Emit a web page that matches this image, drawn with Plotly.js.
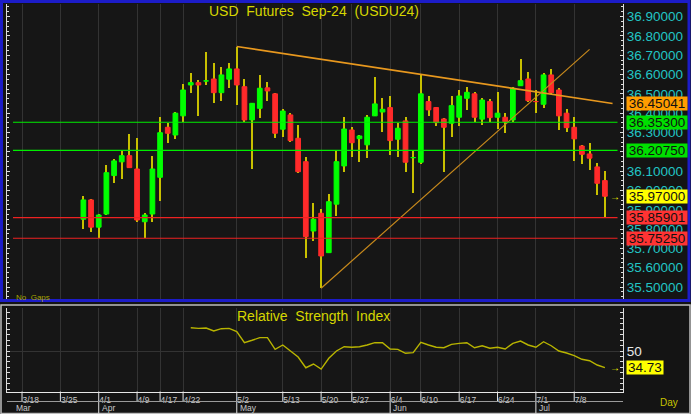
<!DOCTYPE html>
<html><head><meta charset="utf-8">
<script src="https://cdn.plot.ly/plotly-3.0.1.min.js"></script>
<style>html,body{margin:0;padding:0;background:#141414;}#chart{width:691px;height:414px;}</style>
</head><body><div id="chart"></div>
<script>
// ---- axis categories (trading days) ----
const leadDays = ['3/18','3/19','3/20','3/21','3/22','3/25','3/26','3/27'];
const trailDays = ['7/15','7/16','7/17'];
// ---- candle data ----
const dates = ['3/28','3/29','4/1','4/2','4/3','4/4','4/5','4/9','4/10','4/11','4/17','4/18','4/19','4/22','4/23','4/24','4/25','4/26','4/29','4/30',
 '5/2','5/3','5/7','5/8','5/9','5/10','5/13','5/14','5/15','5/16','5/17','5/20','5/21','5/23','5/24','5/27','5/28','5/29','5/30','5/31',
 '6/4','6/5','6/6','6/7','6/10','6/11','6/12','6/13','6/14','6/17','6/18','6/19','6/20','6/21','6/24','6/25','6/26','6/27','6/28',
 '7/1','7/2','7/3','7/4','7/5','7/8','7/9','7/10','7/11','7/12'];
const open = [35.851,35.951,35.810,35.878,36.077,36.148,36.180,36.111,35.838,35.878,36.068,36.327,36.287,36.386,36.546,36.558,36.567,36.577,36.506,36.576,
 36.629,36.537,36.365,36.425,36.531,36.500,36.317,36.391,36.270,36.149,35.790,35.882,35.678,35.929,36.127,36.313,36.268,36.236,36.386,36.406,
 36.429,36.265,36.360,36.170,36.146,36.460,36.429,36.370,36.348,36.379,36.477,36.500,36.369,36.460,36.379,36.379,36.365,36.542,36.577,
 36.460,36.446,36.598,36.520,36.400,36.327,36.230,36.189,36.122,36.051];
const high = [35.972,35.955,35.876,36.132,36.163,36.204,36.291,36.270,35.885,36.180,36.379,36.351,36.404,36.550,36.610,36.572,36.717,36.658,36.638,36.658,
 36.744,36.577,36.455,36.598,36.560,36.505,36.422,36.400,36.339,36.172,35.934,35.903,35.982,36.204,36.379,36.327,36.285,36.391,36.589,36.477,
 36.489,36.351,36.379,36.210,36.598,36.489,36.434,36.374,36.489,36.520,36.537,36.508,36.477,36.472,36.511,36.400,36.537,36.679,36.615,
 36.520,36.607,36.627,36.529,36.420,36.379,36.235,36.247,36.141,36.101];
const low = [35.799,35.787,35.753,35.873,36.037,36.058,36.115,35.838,35.753,35.838,35.947,36.247,36.265,36.356,36.506,36.386,36.546,36.454,36.463,36.532,
 36.443,36.356,36.110,36.374,36.465,36.270,36.278,36.250,36.089,35.649,35.739,35.494,35.675,35.868,36.097,36.175,36.149,36.167,36.386,36.304,
 36.184,36.175,36.097,35.989,36.137,36.386,36.334,36.097,36.278,36.335,36.417,36.356,36.339,36.356,36.317,36.296,36.356,36.540,36.460,
 36.403,36.425,36.500,36.313,36.304,36.154,36.137,36.106,35.977,35.859];
const close = [35.951,35.810,35.873,36.092,36.153,36.180,36.118,35.847,35.873,36.111,36.299,36.296,36.400,36.520,36.558,36.546,36.567,36.506,36.598,36.629,
 36.546,36.365,36.451,36.529,36.515,36.296,36.411,36.258,36.097,35.761,35.851,35.661,35.942,36.149,36.318,36.247,36.282,36.379,36.448,36.420,
 36.258,36.322,36.146,36.170,36.500,36.417,36.351,36.327,36.439,36.489,36.508,36.379,36.468,36.377,36.400,36.356,36.529,36.568,36.465,
 36.460,36.598,36.506,36.386,36.325,36.267,36.187,36.167,36.037,35.970];
// ---- RSI ----
const rsiDates = dates.slice(dates.indexOf('4/23'));
const rsi = [71.3,70.7,71.0,68.3,70.4,70.7,67.7,57.6,59.8,62.2,62.2,51.5,55.5,50.3,44.5,34.7,38.1,33.5,43.3,50.0,53.9,
 53.4,53.9,55.5,57.6,57.6,51.8,51.5,47.9,48.5,57.9,55.5,53.4,53.0,56.1,57.0,57.6,53.0,54.8,52.5,53.4,
 51.8,57.0,59.1,55.5,53.4,58.5,54.8,50.0,48.2,45.7,42.4,41.1,37.2,34.73];
// ---- studies ----
const trendDownDates = ['5/2','7/15'];
const trendDownValues = [36.745, 36.45041];
const trendUpDates = ['5/20','7/10'];
const trendUpValues = [35.494, 36.73];
const levels = [36.353, 36.2075, 35.85901, 35.7525];
const levelColors = ['#00ee00','#00ee00','#ee2222','#ee2222'];
const levelBoxColors = ['#00e000','#00e000','#ff3333','#ff3333'];
// ---- tick labels ----
const tickDates = ['3/18','3/25','4/1','4/9','4/17','4/22','5/2','5/13','5/20','5/27','6/4','6/10','6/17','6/24','7/1','7/8'];
const monthStarts = ['4/1','5/2','6/4','7/1'];
const monthNames = ['Apr','May','Jun','Jul'];
const rsiMinorTicks = [15,20,25,30,35,40,45,55,60,65,70,75,80,85];

const axisDays = leadDays.concat(dates, trailDays);
const ix = d => axisDays.indexOf(d);
const xs = dates.map(ix);

// pixel helpers for decoration placement
const W = 691, H = 414, L = 7, R = 68, PW = W - L - R;
const px = p => (p - L) / PW;
const py = p => (H - p) / H;

const FONT = 'Liberation Sans, Arial, sans-serif';
const YEL = '#d6d600';

const traces = [
  { type:'bar', x: xs, base: low, y: high.map((h,i)=>h-low[i]), width: 0.26,
    marker:{color:'#c8c000'}, xaxis:'x', yaxis:'y', hoverinfo:'skip' },
  { type:'candlestick', x: xs, open: open, close: close,
    high: open.map((o,i)=>Math.max(o,close[i])), low: open.map((o,i)=>Math.min(o,close[i])),
    increasing:{fillcolor:'#00ff00', line:{color:'#00ff00', width:1}},
    decreasing:{fillcolor:'#ff2a2a', line:{color:'#ff2a2a', width:1}},
    whiskerwidth:0, xaxis:'x', yaxis:'y', hoverinfo:'skip' },
  { type:'scatter', mode:'lines', x: trendDownDates.map(ix), y: trendDownValues,
    line:{color:'#e8981e', width:1.6}, xaxis:'x', yaxis:'y', hoverinfo:'skip' },
  { type:'scatter', mode:'lines', x: trendUpDates.map(ix), y: trendUpValues,
    line:{color:'#c88a1c', width:1.2}, xaxis:'x', yaxis:'y', hoverinfo:'skip' },
  { type:'scatter', mode:'lines', x: rsiDates.map(ix), y: rsi,
    line:{color:'#b8b400', width:1.4}, xaxis:'x', yaxis:'y2', hoverinfo:'skip' }
];

const shapes = [];
levels.forEach((v,i)=>shapes.push({type:'line', xref:'paper', yref:'y', x0:px(13), x1:px(617.5), y0:v, y1:v,
  line:{color:levelColors[i], width:1.2}, layer:'above'}));
// frames
shapes.push({type:'rect', xref:'paper', yref:'paper', x0:px(1.5), x1:px(689), y0:py(300.5), y1:py(1.5),
  line:{color:'#1c1cc8', width:3}, layer:'above'});
shapes.push({type:'rect', xref:'paper', yref:'paper', x0:px(1), x1:px(690), y0:py(413.5), y1:py(305),
  line:{color:'#bdbdbd', width:1.5}, layer:'above'});
// date row separators
tickDates.forEach(d=>shapes.push({type:'line', xref:'x', yref:'paper', x0:ix(d), x1:ix(d), y0:py(401.5), y1:py(391.5),
  line:{color:'#e6e6e6', width:1}}));
// month row
shapes.push({type:'line', xref:'paper', yref:'paper', x0:0, x1:1, y0:py(401.5), y1:py(401.5),
  line:{color:'#9a9a9a', width:1}});
monthStarts.forEach(d=>shapes.push({type:'line', xref:'x', yref:'paper', x0:ix(d), x1:ix(d), y0:py(402), y1:py(413.5),
  line:{color:'#e0e0e0', width:1}}));

const annotations = [];
const box = (val, text, bg, yref, w) => ({xref:'paper', x:1, xanchor:'left', xshift:3, yref:yref, y:val, yanchor:'middle',
  text:text, showarrow:false, bgcolor:bg, font:{family:FONT, size:13.5, color:'#111'}, width:w, height:13, borderpad:0});
annotations.push(box(trendDownValues[1], trendDownValues[1].toFixed(5), '#ff9d00', 'y', 60));
levels.forEach((v,i)=>annotations.push(box(v, v.toFixed(5), levelBoxColors[i], 'y', 60)));
annotations.push(box(close[close.length-1], close[close.length-1].toFixed(5), '#ffff00', 'y', 60));
annotations.push(box(rsi[rsi.length-1], rsi[rsi.length-1].toFixed(2), '#ffff00', 'y2', 36));
annotations.push({xref:'paper', x:1, xanchor:'right', xshift:-1, yref:'y', y:close[close.length-1], yanchor:'middle',
  text:'→', showarrow:false, font:{family:FONT, size:10, color:'#ffff00'}});
annotations.push({xref:'paper', x:1, xanchor:'right', xshift:-1, yref:'y2', y:rsi[rsi.length-1], yanchor:'middle',
  text:'→', showarrow:false, font:{family:FONT, size:10, color:'#ffff00'}});
annotations.push({xref:'paper', x:0, xanchor:'left', xshift:7, yref:'paper', y:py(297), yanchor:'middle',
  text:'No  Gaps'.replace(/ /g,'\u00a0'), showarrow:false, font:{family:FONT, size:8, color:'#a8a400'}});
annotations.push({xref:'paper', x:px(669.5), xanchor:'center', yref:'paper', y:py(402), yanchor:'middle',
  text:'Day', showarrow:false, font:{family:FONT, size:10, color:'#c8c400'}});
annotations.push({xref:'paper', x:px(313.5), xanchor:'center', yref:'paper', y:py(316), yanchor:'middle',
  text:'Relative  Strength  Index'.replace(/ /g,'\u00a0'), showarrow:false, font:{family:FONT, size:14, color:YEL}});
annotations.push({xref:'paper', x:0, xanchor:'left', xshift:7, yref:'paper', y:py(407.5), yanchor:'middle',
  text:'Mar', showarrow:false, font:{family:FONT, size:8.5, color:'#c8c8c8'}});
monthStarts.forEach((d,i)=>annotations.push({xref:'x', x:ix(d), xanchor:'left', xshift:1, yref:'paper', y:py(407.5), yanchor:'middle',
  text:monthNames[i], showarrow:false, font:{family:FONT, size:8.5, color:'#c8c8c8'}}));

const layout = {
  width:W, height:H, margin:{l:L, r:R, t:0, b:0},
  paper_bgcolor:'#141414', plot_bgcolor:'#161616', showlegend:false,
  boxgap:0.12, bargap:0,
  font:{family:FONT, color:'#cccccc'},
  title:{text:'USD  Futures  Sep-24  (USDU24)'.replace(/ /g,'\u00a0'), font:{family:FONT, size:14, color:YEL},
    x:314/W, xref:'container', xanchor:'center', y:1-11.5/H, yref:'container', yanchor:'middle'},
  xaxis:{range:[-1.96,78.36], anchor:'y2', tickmode:'array', tickvals:tickDates.map(ix), ticktext:tickDates,
    showgrid:true, gridcolor:'#333333', zeroline:false, showline:true, linecolor:'#e6e6e6', linewidth:1,
    ticks:'', tickangle:0, tickfont:{family:FONT, size:8.5, color:'#c8c8c8'},
    ticklabelposition:'outside right', rangeslider:{visible:false}, fixedrange:true},
  yaxis:{domain:[py(300),py(4)], range:[35.433,36.965], side:'right', anchor:'x',
    tickmode:'linear', tick0:35.5, dtick:0.1, tickformat:'.5f', showgrid:false, zeroline:false,
    ticks:'inside', ticklen:3, tickcolor:'#dddddd', showline:true, linecolor:'#dddddd', mirror:'allticks',
    tickfont:{family:FONT, size:13.5, color:'#22c4c4'},
    minor:{dtick:0.025, ticks:'inside', ticklen:2, tickcolor:'#dddddd'}},
  yaxis3:{overlaying:'y', anchor:'x', side:'left', range:[35.433,36.965], tickmode:'linear', tick0:35.4, dtick:0.2,
    showgrid:true, gridcolor:'#333333', showticklabels:false, ticks:'', zeroline:false, showline:false},
  yaxis2:{domain:[py(391.5),py(307.5)], range:[12.98,89.76], side:'right', anchor:'x',
    tickmode:'array', tickvals:[50], ticktext:['50'], showgrid:true, gridcolor:'#333333', zeroline:false,
    ticks:'inside', ticklen:3, tickcolor:'#dddddd', showline:true, linecolor:'#dddddd', mirror:'allticks',
    tickfont:{family:FONT, size:13.5, color:'#e8e8e8'},
    minor:{tickmode:'array', tickvals:rsiMinorTicks, ticks:'inside', ticklen:3, tickcolor:'#dddddd'}},
  shapes:shapes, annotations:annotations
};

Plotly.newPlot('chart', traces, layout, {displayModeBar:false, staticPlot:true});
</script>
</body></html>
